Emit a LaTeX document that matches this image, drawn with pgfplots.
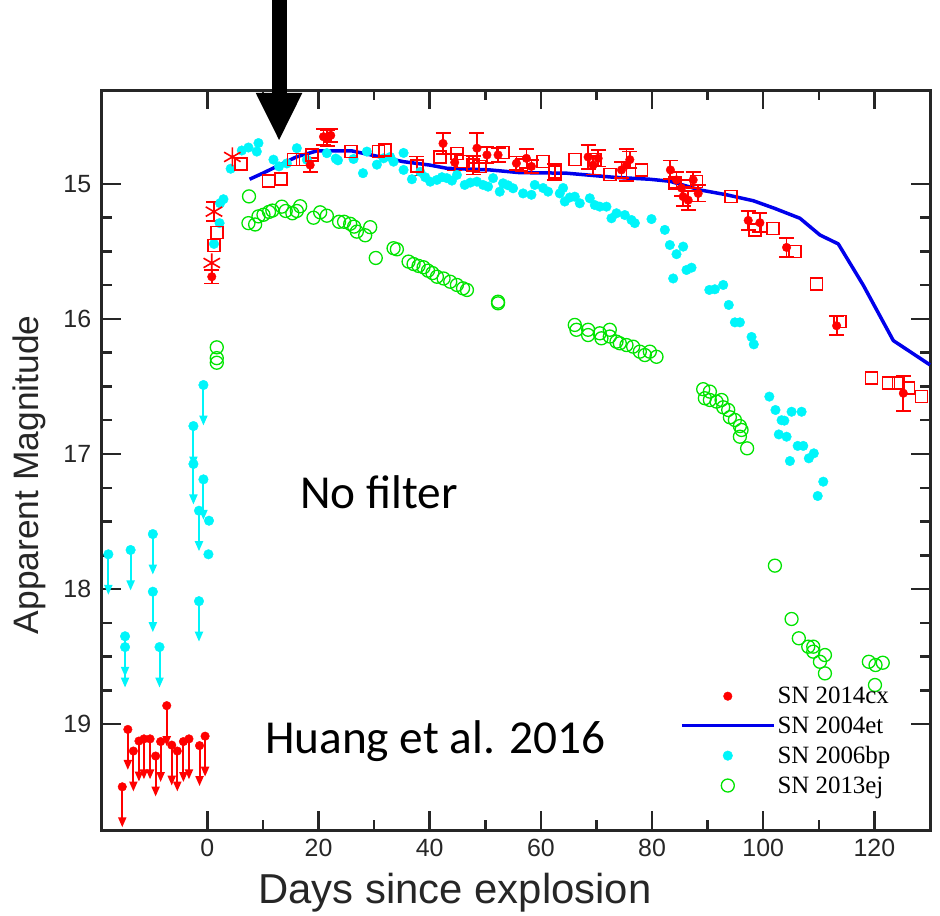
\documentclass[border=0pt]{standalone}
\usepackage{fontspec}
\setmainfont{Liberation Sans}
\newfontfamily\legendfont{Liberation Serif}
\newfontfamily\notefont{Carlito}
\usepackage{pgfplots}
\pgfplotsset{compat=1.18}
\usetikzlibrary{arrows.meta}

\definecolor{framegray}{RGB}{38,38,38}
\definecolor{snred}{RGB}{255,0,0}
\definecolor{sncyan}{RGB}{0,245,250}
\definecolor{sngreen}{RGB}{0,228,0}
\definecolor{snblue}{RGB}{0,0,235}

\pgfplotsset{
  errred/.style={
    error bars/.cd, y dir=both, y explicit,
    error bar style={line width=1.8bp, snred},
    error mark options={rotate=90, snred, mark size=7.5bp, line width=1.8bp}},
}

\begin{document}
\begin{tikzpicture}
\useasboundingbox (-101.7bp,-86bp) rectangle (838.3bp,830bp);
\begin{axis}[
  scale only axis, width=828.3bp, height=740bp,
  xmin=-19, xmax=130, ymin=14.304, ymax=19.785,
  y dir=reverse, clip=false,
  axis line style={line width=3bp, framegray},
  tick align=inside,
  major tick length=19bp, minor tick length=10bp,
  every tick/.style={framegray, line width=2.5bp},
  xtick={0,20,...,120}, minor x tick num=1,
  ytick={15,16,17,18,19}, minor y tick num=3,
  /pgf/number format/assume math mode=true,
  ticklabel style={font=\fontsize{25}{25}\selectfont, text=framegray},
  xticklabel style={yshift=-6bp},
  yticklabel style={xshift=-7bp},
  xlabel={Days since explosion},
  ylabel={Apparent Magnitude},
  xlabel style={font=\fontsize{42}{42}\selectfont, text=framegray,
    at={(axis description cs:0.4265,-0.085)}, anchor=center},
  ylabel style={font=\fontsize{35.5}{35.5}\selectfont, text=framegray,
    at={(axis description cs:-0.087,0.48)}, anchor=center, rotate=0},
  legend style={draw=none, fill=none, inner sep=0pt,
    font=\legendfont\fontsize{25}{25}\selectfont,
    at={(rel axis cs:0.698,0.196)}, anchor=north west,
    row sep=7.5bp, cells={anchor=west}},
  legend image code/.code={\draw[mark repeat=2,mark phase=2,#1]
    plot coordinates {(0bp,0bp) (46bp,0bp) (92bp,0bp)};},
]

% legend entries, in the order of the key
\addlegendimage{only marks, mark=*, mark size=4.3bp, snred, fill=snred}
\addlegendentry{SN 2014cx}
\addlegendimage{snblue, line width=3.5bp}
\addlegendentry{SN 2004et}
\addlegendimage{only marks, mark=*, mark size=4.8bp, sncyan, fill=sncyan}
\addlegendentry{SN 2006bp}
\addlegendimage{only marks, mark=o, mark size=6.5bp, sngreen, line width=1.3bp}
\addlegendentry{SN 2013ej}

% SN 2013ej
\addplot[forget plot, only marks, mark=o, mark size=6.5bp, sngreen, line width=1.3bp] table {
x y
1.7 16.21
1.7 16.29
1.7 16.324
7.5 15.092
7.4 15.29
8.6 15.30
9.2 15.24
10.1 15.228
11.1 15.207
11.7 15.197
13.4 15.168
14.1 15.2
15.3 15.217
16.1 15.2
16.7 15.165
19.1 15.25
20.3 15.21
21.5 15.235
23.7 15.28
24.6 15.28
25.7 15.295
26.4 15.316
26.9 15.353
28.4 15.38
29.3 15.32
30.3 15.548
33.5 15.476
34.1 15.484
36.2 15.575
37.1 15.593
38.0 15.607
38.9 15.617
39.7 15.642
40.5 15.66
41.3 15.687
42.5 15.70
43.7 15.724
44.9 15.748
46.0 15.773
46.7 15.785
52.3 15.872
52.3 15.884
66.1 16.044
66.4 16.08
68.5 16.08
68.5 16.119
70.6 16.106
70.9 16.143
72.4 16.08
72.4 16.13
73.6 16.168
74.2 16.18
75.4 16.193
76.6 16.205
77.8 16.242
78.7 16.267
79.6 16.242
80.8 16.28
89.2 16.52
89.5 16.587
90.4 16.538
90.4 16.6
91.6 16.612
92.5 16.6
92.8 16.654
93.7 16.674
94.0 16.728
94.9 16.748
95.8 16.793
95.8 16.872
96.1 16.822
97.1 16.958
102.1 17.827
105.1 18.222
106.4 18.365
108.1 18.427
109.0 18.427
109.0 18.464
110.2 18.539
111.1 18.489
111.1 18.625
119.0 18.539
120.2 18.563
121.5 18.546
120.1 18.711
};

% SN 2006bp: upper limits
\addplot[forget plot, sncyan, line width=2bp,
  quiver={u=0, v=0.3, every arrow/.append style={-{Triangle[length=10bp,width=8bp]}}}]
  table {
x y
-17.8 17.743
-13.8 17.711
-9.8 17.593
-9.8 18.02
-14.8 18.35
-14.8 18.43
-8.6 18.43
-2.5 16.793
-2.5 17.074
-0.7 16.489
-0.7 17.188
-1.5 17.42
-1.5 18.09
};
\addplot[forget plot, only marks, mark=*, mark size=4.8bp, sncyan, fill=sncyan] table {
x y
-17.8 17.743
-13.8 17.711
-9.8 17.593
-9.8 18.02
-14.8 18.35
-14.8 18.43
-8.6 18.43
-2.5 16.793
-2.5 17.074
-0.7 16.489
-0.7 17.188
-1.5 17.42
-1.5 18.09
};

% SN 2006bp: detections
\addplot[forget plot, only marks, mark=*, mark size=4.8bp, sncyan, fill=sncyan] table {
x y
0.3 17.494
0.2 17.743
1.2 15.444
2.2 15.29
2.3 15.143
2.9 15.113
4.2 14.887
6.2 14.752
7.4 14.73
8.9 14.76
9.2 14.697
11.9 14.82
12.9 14.87
14.3 14.848
16.1 14.735
17.9 14.82
21.5 14.772
23.1 14.812
23.5 14.825
26.3 14.815
28.0 14.92
28.7 14.76
30.5 14.857
31.7 14.81
32.9 14.80
33.5 14.835
35.3 14.77
35.3 14.896
36.8 14.965
38.3 14.91
39.2 14.95
40.1 14.983
41.3 14.97
42.2 14.95
43.1 14.957
44.0 14.975
44.9 14.933
46.3 15.007
47.3 14.99
48.5 14.983
49.6 15.007
50.5 15.02
51.4 14.957
52.6 15.057
53.2 14.995
54.1 15.01
55.0 15.032
56.8 15.07
58.3 15.08
58.9 15.007
60.4 15.03
61.3 15.057
63.4 15.07
64.0 15.03
64.3 15.13
65.2 15.10
66.1 15.094
67.0 15.143
68.8 15.106
69.7 15.156
70.6 15.168
71.8 15.168
72.7 15.254
73.6 15.217
75.1 15.23
76.3 15.267
76.9 15.29
79.9 15.26
82.3 15.34
83.2 15.452
84.4 15.52
85.6 15.464
83.8 15.70
86.2 15.637
87.1 15.62
90.3 15.785
91.3 15.78
92.8 15.748
93.8 15.896
94.9 16.025
95.8 16.025
97.9 16.133
98.3 16.188
101.1 16.575
102.2 16.674
103.3 16.75
103.8 16.753
105.1 16.687
106.9 16.687
102.8 16.855
104.2 16.872
106.2 16.94
107.2 16.94
104.8 17.052
108.2 17.032
109.1 16.995
110.8 17.205
109.8 17.311
};

% SN 2004et template
\addplot[forget plot, snblue, line width=3.5bp, line join=round] table {
x y
7.6 14.965
10.0 14.92
12.5 14.87
16.0 14.80
19.7 14.755
26.0 14.755
30.0 14.79
35.3 14.835
40.0 14.86
43.1 14.884
50.8 14.896
56.2 14.916
64.6 14.92
73.0 14.95
79.6 14.965
83.2 14.98
88.6 15.044
93.4 15.08
98.2 15.124
102.0 15.18
106.6 15.254
110.2 15.378
113.5 15.444
118.0 15.75
123.4 16.16
130.0 16.34
};

% SN 2014cx: squares
\addplot[forget plot, only marks, mark=square, mark size=6bp, snred, line width=1.6bp] table {
x y
1.2 15.457
1.7 15.358
6.1 14.854
11.0 14.978
13.2 14.963
15.5 14.82
17.1 14.82
18.8 14.785
25.8 14.76
30.8 14.76
32.0 14.75
41.9 14.80
44.9 14.773
46.0 14.835
49.0 14.87
53.2 14.768
56.5 14.86
60.4 14.835
66.1 14.82
69.7 14.82
72.4 14.93
78.1 14.896
84.1 14.995
88.0 14.983
94.2 15.094
98.5 15.34
101.8 15.33
105.7 15.50
109.6 15.74
113.8 16.02
119.5 16.435
122.5 16.476
124.3 16.476
126.1 16.51
128.5 16.575
};
\addplot[forget plot, only marks, mark=square, mark size=6bp, snred, line width=1.6bp, errred]
  table[x=x, y=y, y error=e] {
x y e
37.7 14.867 0.07
47.8 14.86 0.07
62.5 14.91 0.06
};

% SN 2014cx: asterisks
\addplot[forget plot, only marks, mark=asterisk, mark size=9.5bp, snred, line width=1.6bp]
  table {
x y
0.8 15.585
1.2 15.205
4.5 14.80
};
\addplot[forget plot, draw=none, mark=none, errred]
  table[x=x, y=y, y error=e] {
x y e
1.2 15.205 0.07
};

% SN 2014cx: upper limits
\addplot[forget plot, snred, line width=2bp,
  quiver={u=0, v=0.3, every arrow/.append style={-{Triangle[length=10bp,width=8bp]}}}]
  table {
x y
-15.3 19.465
-14.3 19.04
-13.3 19.2
-12.3 19.126
-11.4 19.11
-10.3 19.11
-9.3 19.237
-8.4 19.13
-7.3 18.864
-6.4 19.156
-5.4 19.2
-4.3 19.13
-3.3 19.11
-1.4 19.16
-0.4 19.09
};
\addplot[forget plot, only marks, mark=*, mark size=4.3bp, snred, fill=snred] table {
x y
-15.3 19.465
-14.3 19.04
-13.3 19.2
-12.3 19.126
-11.4 19.11
-10.3 19.11
-9.3 19.237
-8.4 19.13
-7.3 18.864
-6.4 19.156
-5.4 19.2
-4.3 19.13
-3.3 19.11
-1.4 19.16
-0.4 19.09
};

% SN 2014cx: detections with errors
\addplot[forget plot, only marks, mark=*, mark size=4.3bp, snred, fill=snred, errred]
  table[x=x, y=y, y error=e] {
x y e
0.8 15.687 0.05
18.5 14.86 0.05
20.9 14.65 0.06
21.6 14.66 0.06
22.2 14.64 0.05
42.4 14.70 0.08
44.5 14.84 0.06
48.5 14.735 0.11
50.3 14.785 0.06
52.3 14.785 0.05
55.6 14.847 0.05
57.4 14.81 0.07
58.3 14.87 0.05
68.5 14.80 0.09
69.4 14.86 0.07
70.3 14.81 0.06
74.5 14.896 0.06
75.4 14.86 0.12
76.0 14.82 0.06
83.3 14.896 0.07
84.4 14.97 0.06
85.3 15.03 0.06
85.6 15.094 0.07
86.5 15.12 0.07
87.4 14.97 0.06
88.3 15.07 0.06
97.3 15.27 0.07
99.4 15.287 0.07
104.2 15.47 0.07
113.2 16.05 0.07
125.2 16.55 0.13
};

% annotations
\node[font=\notefont\fontsize{47.5}{47.5}\selectfont, text=black] at (axis cs:30.9,17.28) {No filter};
\node[font=\notefont\fontsize{47.5}{47.5}\selectfont, text=black] at (axis cs:41.0,19.13) {Huang et al. 2016};

% arrow marking the epoch of interest
\fill[black] (axis cs:11.58,13.55) rectangle (axis cs:14.28,14.34);
\fill[black] (axis cs:8.71,14.326) -- (axis cs:17.09,14.326) -- (axis cs:12.91,14.674) -- cycle;
\end{axis}
\end{tikzpicture}
\end{document}
